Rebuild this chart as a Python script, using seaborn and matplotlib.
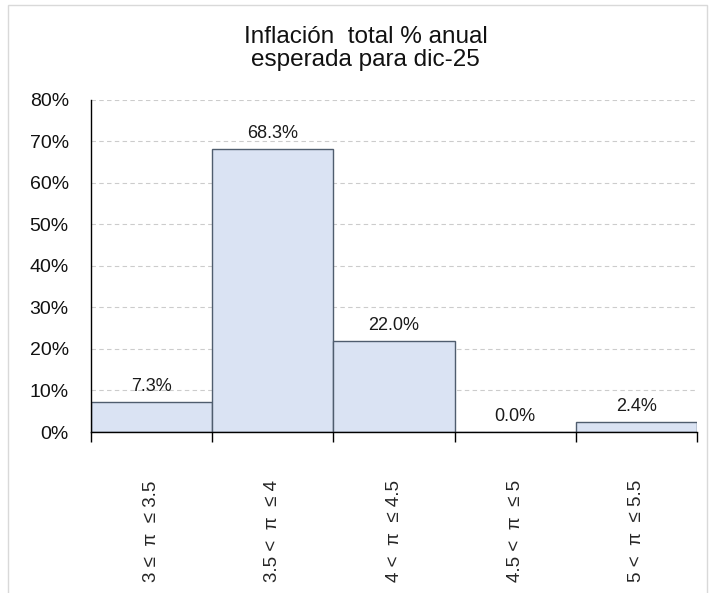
import matplotlib
matplotlib.use("Agg")
import matplotlib.pyplot as plt
import seaborn as sns
import pandas as pd
from matplotlib.patches import Rectangle
from matplotlib.ticker import FuncFormatter, FixedLocator

# Data
categories = ["3 ≤  π  ≤ 3.5", "3.5 <  π  ≤ 4", "4 <  π  ≤ 4.5", "4.5 <  π  ≤ 5", "5 <  π  ≤ 5.5"]
shares = [7.3, 68.3, 22.0, 0.0, 2.4]
title = "Inflación  total % anual\nesperada para dic-25"

df = pd.DataFrame({"rango": categories, "pct": shares})

sns.set_style("white")
plt.rcParams["font.family"] = ["Liberation Sans", "DejaVu Sans"]

fig = plt.figure(figsize=(7.13, 5.93), dpi=100)
ax = fig.add_axes([0.1276, 0.2715, 0.85, 0.5599])

sns.barplot(data=df, x="rango", y="pct", ax=ax, width=1.0,
            color="#DAE3F3", edgecolor="#4F5D6E", linewidth=1.0,
            saturation=1)

for i, v in enumerate(shares):
    ax.annotate(f"{v:.1f}%", (i, v), xytext=(0, 5), textcoords="offset points",
                ha="center", va="bottom", fontsize=13, color="#1a1a1a")

ax.set_ylim(0, 80)
ax.set_xlim(-0.5, len(categories) - 0.5)
ax.set_yticks(range(0, 81, 10))
ax.yaxis.set_major_formatter(FuncFormatter(lambda y, _: f"{y:.0f}%"))
ax.tick_params(axis="y", length=0, labelsize=14, pad=16, labelcolor="#111111")
ax.tick_params(axis="x", which="major", length=0, labelsize=13.5, pad=108)
ax.xaxis.set_minor_locator(FixedLocator([i - 0.5 for i in range(len(categories) + 1)]))
ax.tick_params(axis="x", which="minor", length=7, width=1, color="black", bottom=True)
plt.setp(ax.get_xticklabels(), rotation=90, va="bottom")

ax.set_xlabel("")
ax.set_ylabel("")
ax.yaxis.grid(True, linestyle=(0, (4, 3)), color="#CCCCCC", linewidth=0.8)
ax.set_axisbelow(True)
for s in ["top", "right"]:
    ax.spines[s].set_visible(False)
for s in ["left", "bottom"]:
    ax.spines[s].set_color("black")
    ax.spines[s].set_linewidth(1.0)

fig.text(0.513, 0.918, title, ha="center", va="center", fontsize=17.5,
         linespacing=1.1, color="#111111")

# outer frame
fig.patches.append(Rectangle((8 / 713, -0.01), 699 / 713, 1 - 5 / 593 + 0.01,
                             transform=fig.transFigure, fill=False,
                             edgecolor="#D9D9D9", linewidth=1.0))

fig.savefig("out.png", dpi=100)
